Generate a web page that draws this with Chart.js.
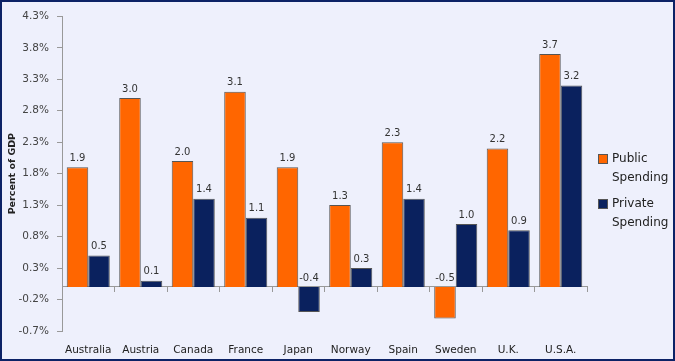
<!DOCTYPE html>
<html>
<head>
<meta charset="utf-8">
<script src="https://cdn.jsdelivr.net/npm/chart.js@4"></script>
<style>
  html, body { margin: 0; padding: 0; }
  body { width: 675px; height: 361px; overflow: hidden; }
  #frame {
    position: relative;
    box-sizing: border-box;
    width: 675px; height: 361px;
    border: 2px solid #0c2266;
    background: #eef0fc;
  }
  #chart { position: absolute; left: 0; top: 0; }
  #legend {
    position: absolute; left: 596px; top: 147px;
    font-family: "DejaVu Sans", Verdana, sans-serif;
    font-size: 12px; color: #222; line-height: 19px;
  }
  .item { position: relative; padding-left: 14px; margin-bottom: 7px; }
  .box {
    position: absolute; left: 0; top: 5px; width: 8px; height: 8px;
    border: 1px solid #555;
  }
</style>
</head>
<body>
<div id="frame">
  <canvas id="chart" width="671" height="357"></canvas>
  <div id="legend"></div>
</div>
<script>
// data
const countries = ['Australia', 'Austria', 'Canada', 'France', 'Japan', 'Norway', 'Spain', 'Sweden', 'U.K.', 'U.S.A.'];
const publicSpending = [1.9, 3.0, 2.0, 3.1, 1.9, 1.3, 2.3, -0.5, 2.2, 3.7];
const privateSpending = [0.5, 0.1, 1.4, 1.1, -0.4, 0.3, 1.4, 1.0, 0.9, 3.2];
const seriesNames = [['Public', 'Spending'], ['Private', 'Spending']];
const seriesColors = ['#ff6600', '#0a215e'];

const font = '"DejaVu Sans", Verdana, sans-serif';
const ctx = document.getElementById('chart');

// value labels above bars (negatives sit just above the zero line)
const valueLabels = {
  id: 'valueLabels',
  afterDatasetsDraw(chart) {
    const c = chart.ctx;
    const zeroY = chart.scales.y.getPixelForValue(0);
    c.save();
    c.font = '10px ' + font;
    c.fillStyle = '#333';
    c.textAlign = 'center';
    c.textBaseline = 'bottom';
    chart.data.datasets.forEach((ds, i) => {
      chart.getDatasetMeta(i).data.forEach((bar, j) => {
        const v = ds.data[j];
        const y = v >= 0 ? bar.y : zeroY;
        c.fillText(v.toFixed(1), bar.x, y - 4);
      });
    });
    c.restore();
  }
};

const chart = new Chart(ctx, {
  type: 'bar',
  data: {
    labels: countries,
    datasets: [{
      label: 'Public Spending',
      data: publicSpending,
      backgroundColor: seriesColors[0],
      borderColor: '#555',
      borderWidth: 1,
      xAxisID: 'x'
    }, {
      label: 'Private Spending',
      data: privateSpending,
      backgroundColor: seriesColors[1],
      borderColor: '#555',
      borderWidth: 1,
      xAxisID: 'x'
    }]
  },
  options: {
    responsive: false,
    animation: false,
    layout: { padding: { top: 13, right: 86, left: 0, bottom: 0 } },
    datasets: { bar: { categoryPercentage: 0.82, barPercentage: 1.0 } },
    plugins: {
      legend: { display: false },
      tooltip: { enabled: false }
    },
    scales: {
      x: {
        position: { y: 0 },
        offset: true,
        grid: { drawOnChartArea: false, tickLength: 5, color: '#999', offset: true },
        border: { display: true, color: '#999' },
        ticks: { display: false },
        afterFit: s => { s.height = 0; }
      },
      x2: {
        type: 'category',
        labels: countries,
        position: 'bottom',
        offset: true,
        grid: { display: false },
        border: { display: false },
        ticks: {
          color: '#222',
          font: { family: font, size: 10.5 },
          padding: 5,
          maxRotation: 0,
          minRotation: 0,
          autoSkip: false
        },
        afterFit: s => { s.height = 28; }
      },
      y: {
        min: -0.7,
        max: 4.3,
        ticks: {
          stepSize: 0.5,
          color: '#444',
          font: { family: font, size: 10.5 },
          padding: 8,
          callback: v => v.toFixed(1) + '%'
        },
        grid: { drawOnChartArea: false, tickLength: 5, color: '#999' },
        border: { display: true, color: '#999' },
        title: {
          display: true,
          text: 'Percent of GDP',
          color: '#222',
          font: { family: font, size: 9.5, weight: 'bold' },
          padding: { top: 5, bottom: 0 }
        },
        afterFit: s => { s.width = 60; }
      }
    }
  },
  plugins: [valueLabels]
});

// html legend
const legend = document.getElementById('legend');
seriesNames.forEach((lines, i) => {
  const item = document.createElement('div');
  item.className = 'item';
  item.innerHTML = '<span class="box" style="background:' + seriesColors[i] + '"></span>' + lines.join('<br>');
  legend.appendChild(item);
});
</script>
</body>
</html>
